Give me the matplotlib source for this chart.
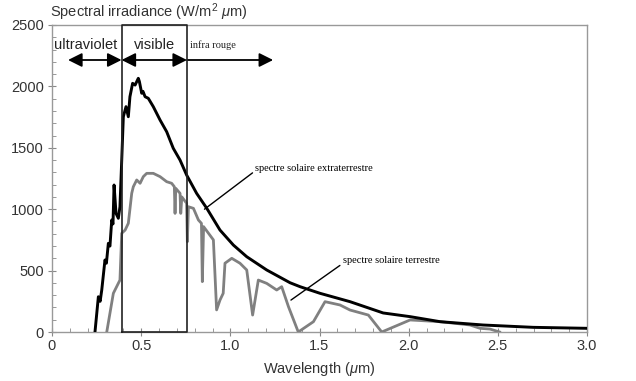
import matplotlib
matplotlib.use("Agg")
import matplotlib.pyplot as plt
from matplotlib.ticker import MultipleLocator

plt.rcParams['font.family'] = ['Liberation Sans', 'DejaVu Sans']
plt.rcParams['mathtext.fontset'] = 'custom'
plt.rcParams['mathtext.it'] = 'Liberation Sans:italic'
plt.rcParams['mathtext.rm'] = 'Liberation Sans'

# Extraterrestrial spectrum (black)
ext_wl = [0.241, 0.26, 0.27, 0.279, 0.297, 0.305, 0.316, 0.325, 0.335, 0.342, 0.348, 0.359,
          0.372, 0.381, 0.391, 0.40, 0.415, 0.428, 0.437, 0.452, 0.466, 0.484, 0.49, 0.503,
          0.51, 0.522, 0.54, 0.568, 0.606, 0.643, 0.68, 0.718, 0.755, 0.811, 0.868, 0.942,
          1.017, 1.092, 1.204, 1.335, 1.391, 1.503, 1.671, 1.857, 2.008, 2.176, 2.417,
          2.698, 3.0]
ext_irr = [0, 287, 250, 342, 586, 560, 722, 700, 912, 880, 1197, 966,
           926, 1020, 1400, 1753, 1835, 1753, 1916, 2025, 2011, 2066, 2040, 1944,
           1960, 1916, 1903, 1835, 1726, 1631, 1496, 1400, 1278, 1129, 1007, 830,
           708, 613, 505, 401, 369, 315, 247, 155, 125, 84, 57,
           38, 30]

# Terrestrial spectrum (gray)
ter_wl = [0.307, 0.344, 0.381, 0.391, 0.41, 0.428, 0.447, 0.456, 0.475, 0.494, 0.512,
          0.531, 0.568, 0.606, 0.643, 0.671, 0.686, 0.69, 0.694, 0.718, 0.722, 0.728,
          0.755, 0.759, 0.765, 0.793, 0.821, 0.838, 0.843, 0.85, 0.905, 0.923, 0.942,
          0.96, 0.97, 1.008, 1.054, 1.092, 1.125, 1.157, 1.204, 1.26, 1.288, 1.326,
          1.381, 1.466, 1.531, 1.615, 1.671, 1.774, 1.849, 2.008, 2.176, 2.344, 2.4,
          2.456, 2.51]
ter_irr = [0, 315, 423, 804, 830, 885, 1129, 1183, 1238, 1211, 1265,
           1292, 1292, 1265, 1224, 1211, 1183, 966, 1170, 1129, 966, 1100,
           1048, 735, 1020, 1007, 912, 885, 410, 858, 750, 180, 260,
           315, 560, 600, 560, 505, 138, 423, 396, 342, 369, 206,
           0, 84, 247, 220, 179, 138, 0, 98, 84, 57, 30,
           24, 0]

y_ticks = [0, 500, 1000, 1500, 2000, 2500]
x_ticks = [0, 0.5, 1.0, 1.5, 2.0, 2.5, 3.0]
x_tick_labels = ['0', '0.5', '1.0', '1.5', '2.0', '2.5', '3.0']

visible_range = (0.39, 0.757)

fig = plt.figure(figsize=(6.36, 3.81), dpi=100)
ax = fig.add_axes([52/636, 49/381, 535/636, 307/381])

ax.plot(ter_wl, ter_irr, color='#808080', lw=2.0, zorder=3)
ax.plot(ext_wl, ext_irr, color='black', lw=2.1, zorder=4)

ax.set_xlim(0, 3.0)
ax.set_ylim(0, 2500)
ax.set_xticks(x_ticks)
ax.set_xticklabels(x_tick_labels)
ax.set_yticks(y_ticks)
ax.xaxis.set_minor_locator(MultipleLocator(0.1))
ax.yaxis.set_minor_locator(MultipleLocator(100))
ax.tick_params(axis='both', which='major', direction='inout', length=6, color='#888888',
               labelsize=10.5, labelcolor='#333333')
ax.tick_params(axis='both', which='minor', direction='in', length=3, color='#888888')
ax.tick_params(axis='x', pad=2)
ax.tick_params(axis='y', pad=3)
for s in ax.spines.values():
    s.set_color('#999999')
    s.set_linewidth(1.0)

# visible box
ax.plot([visible_range[0], visible_range[0], visible_range[1], visible_range[1], visible_range[0]],
        [0, 2500, 2500, 0, 0], color='#222222', lw=1.2, zorder=5, clip_on=False)

arrow_y = 2215
akw = dict(arrowstyle='<|-|>,head_length=0.6,head_width=0.3', color='black', lw=1.3,
           mutation_scale=14, shrinkA=0, shrinkB=0)
ax.annotate('', xy=(0.09, arrow_y), xytext=(visible_range[0], arrow_y), arrowprops=akw)
ax.annotate('', xy=(visible_range[0], arrow_y), xytext=(visible_range[1], arrow_y), arrowprops=akw)
ax.annotate('', xy=(1.24, arrow_y), xytext=(visible_range[1], arrow_y),
            arrowprops=dict(arrowstyle='-|>,head_length=0.6,head_width=0.3', color='black',
                            lw=1.3, mutation_scale=14, shrinkA=0, shrinkB=0))

ax.text(0.19, 2335, 'ultraviolet', ha='center', va='center', fontsize=10.5, color='#222222')
ax.text(0.575, 2335, 'visible', ha='center', va='center', fontsize=10.5, color='#222222')
ax.text(0.775, 2335, 'infra rouge', ha='left', va='center', fontsize=7.5,
        family='Liberation Serif', color='#222222')

ax.annotate('spectre solaire extraterrestre', xy=(0.855, 1000), xytext=(1.14, 1335),
            fontsize=7.5, family='Liberation Serif', va='center', ha='left',
            arrowprops=dict(arrowstyle='-', color='black', lw=1.0, shrinkA=0, shrinkB=0,
                            relpos=(0, 0.2)))
ax.annotate('spectre solaire terrestre', xy=(1.34, 260), xytext=(1.63, 580),
            fontsize=7.5, family='Liberation Serif', va='center', ha='left',
            arrowprops=dict(arrowstyle='-', color='black', lw=1.0, shrinkA=0, shrinkB=0,
                            relpos=(0, 0.2)))

fig.text(50/636, 1 - 12/381, 'Spectral irradiance (W/m$^2$ $\\mu$m)', fontsize=10.5,
         color='#333333', ha='left', va='center')
ax.set_xlabel('Wavelength ($\\mu$m)', fontsize=10.5, color='#333333', labelpad=5)

fig.savefig('out.png', dpi=100)
